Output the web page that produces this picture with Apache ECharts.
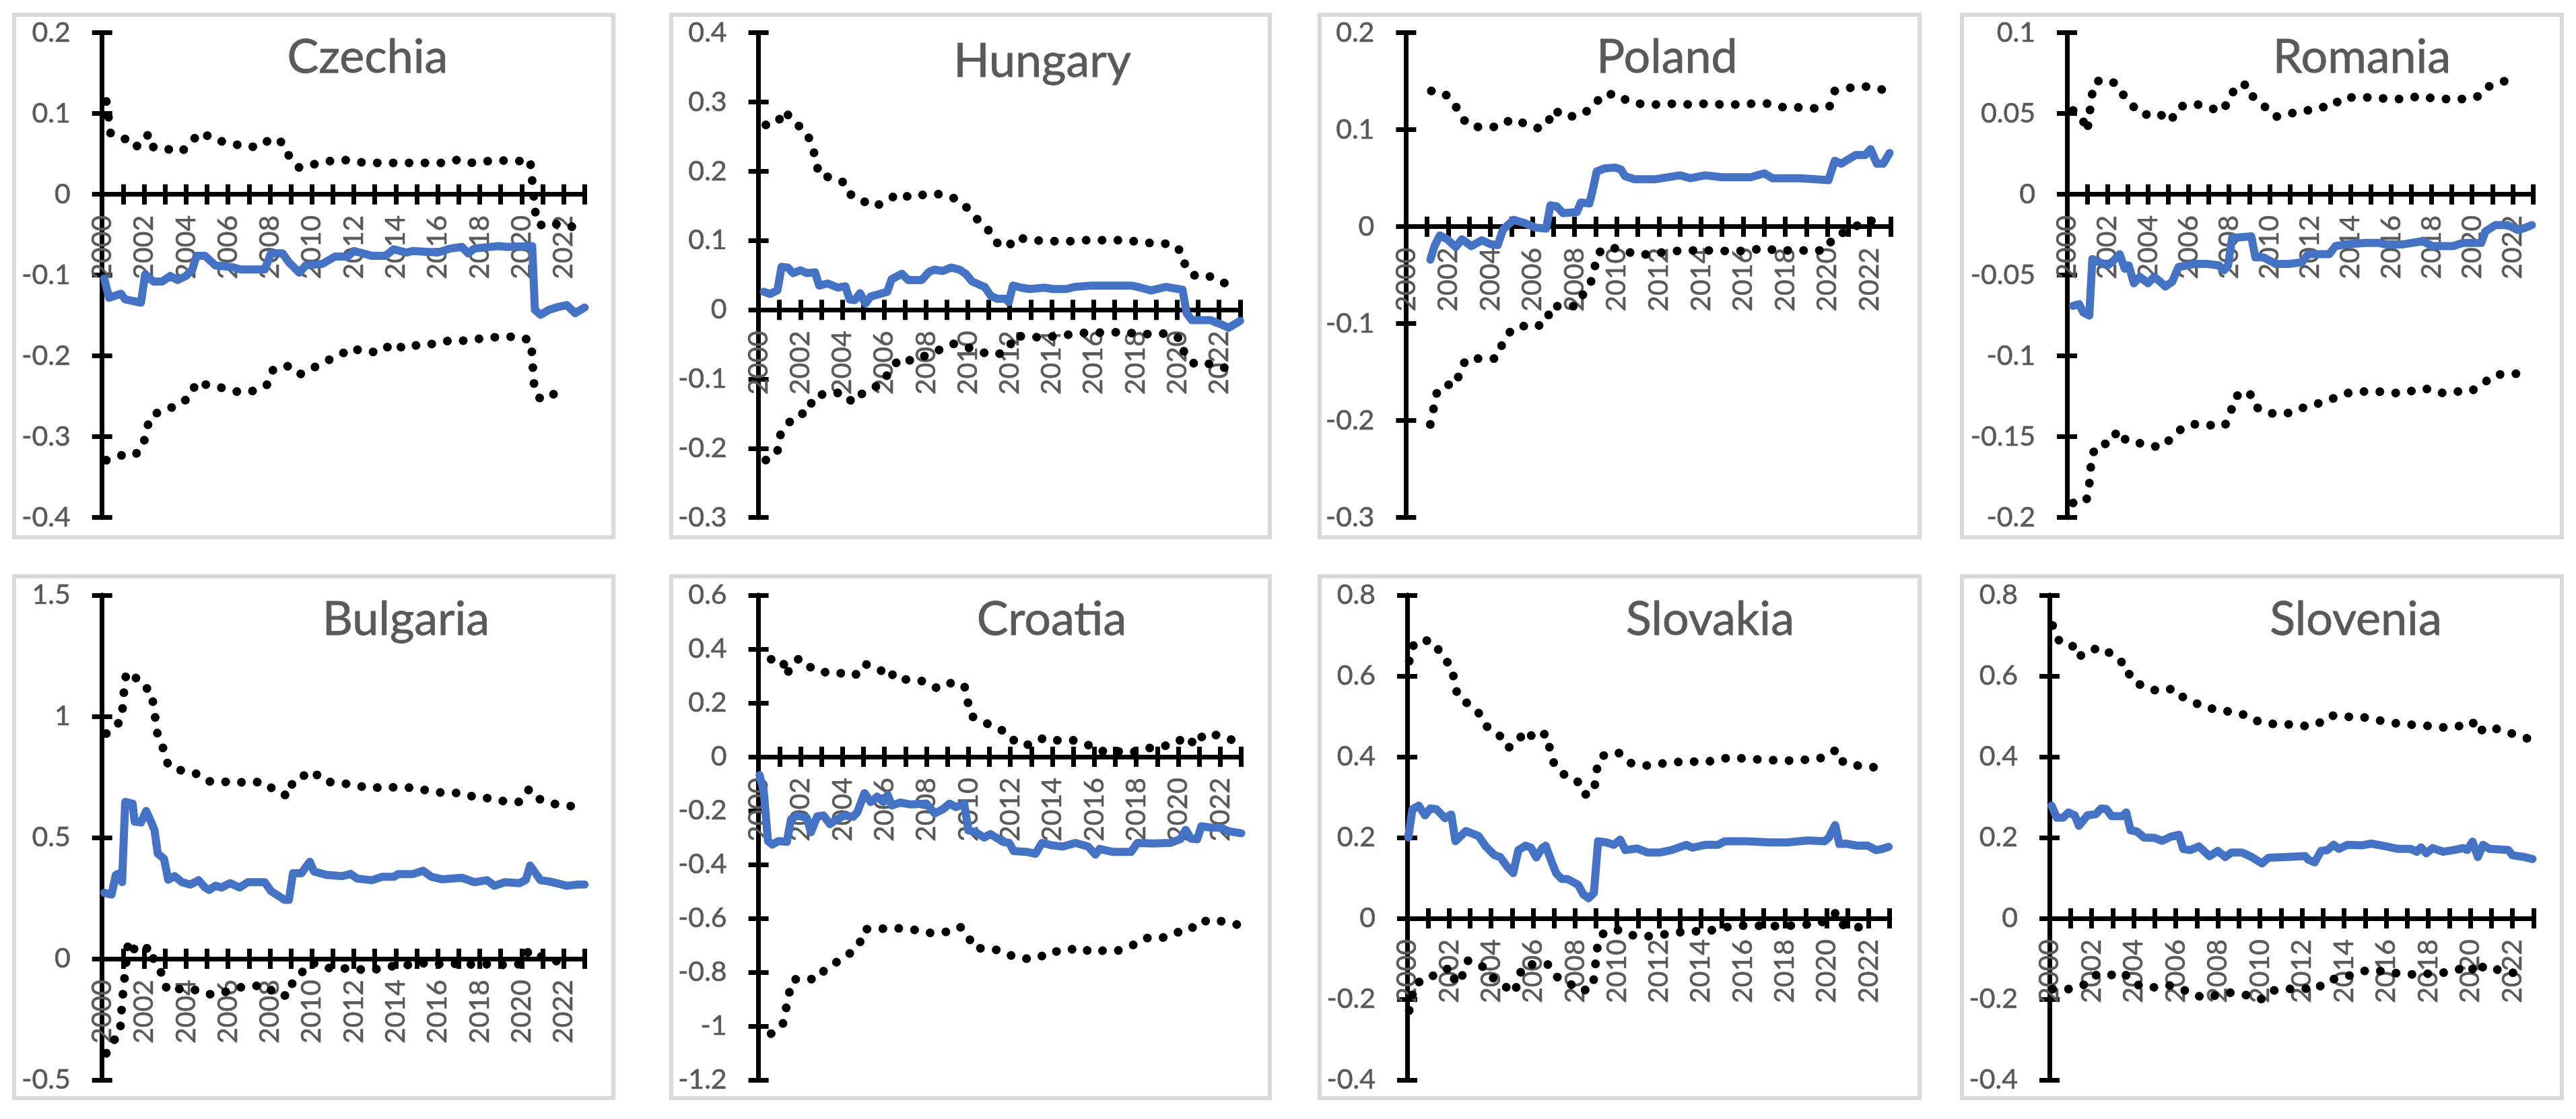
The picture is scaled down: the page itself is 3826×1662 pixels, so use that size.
<!DOCTYPE html>
<html><head><meta charset="utf-8">
<script src="https://cdn.jsdelivr.net/npm/echarts@6/dist/echarts.min.js"></script>
<style>html,body{margin:0;padding:0;background:#fff}#c{width:3826px;height:1662px}</style>
</head><body><div id="c"></div>
<script>
// ---------- data (year, value) ----------
const xYears = [2000, 2023];
const countries = ['Czechia','Hungary','Poland','Romania','Bulgaria','Croatia','Slovakia','Slovenia'];
const yTicks = {
  Czechia:[-0.4,0.2,0.1], Hungary:[-0.3,0.4,0.1], Poland:[-0.3,0.2,0.1], Romania:[-0.2,0.1,0.05],
  Bulgaria:[-0.5,1.5,0.5], Croatia:[-1.2,0.6,0.2], Slovakia:[-0.4,0.8,0.2], Slovenia:[-0.4,0.8,0.2]
};

const czechiaMid = [[2000.1,-0.104],[2000.33,-0.128],[2000.9,-0.123],[2001.1,-0.13],[2001.85,-0.134],[2002.05,-0.099],[2002.45,-0.108],[2002.85,-0.108],[2003.25,-0.101],[2003.6,-0.106],[2004.0,-0.101],[2004.3,-0.093],[2004.5,-0.076],[2004.9,-0.076],[2005.4,-0.088],[2006.2,-0.09],[2006.6,-0.093],[2007.75,-0.093],[2008.05,-0.073],[2008.6,-0.073],[2008.9,-0.084],[2009.4,-0.097],[2009.7,-0.088],[2010.5,-0.086],[2011.1,-0.077],[2011.7,-0.077],[2012.0,-0.07],[2012.85,-0.076],[2013.5,-0.076],[2013.9,-0.068],[2014.5,-0.072],[2014.8,-0.07],[2016.0,-0.072],[2016.6,-0.067],[2017.15,-0.065],[2017.45,-0.073],[2017.75,-0.067],[2018.9,-0.064],[2019.3,-0.065],[2020.5,-0.064],[2020.63,-0.143],[2020.9,-0.149],[2021.3,-0.143],[2021.65,-0.14],[2022.15,-0.137],[2022.55,-0.147],[2023.0,-0.14]];
const czechiaUp = [[2000.2,0.115],[2000.3,0.096],[2000.4,0.076],[2001,0.071],[2001.5,0.058],[2002,0.064],[2002.2,0.075],[2002.45,0.058],[2003.1,0.056],[2003.8,0.053],[2004.3,0.067],[2004.75,0.077],[2005.35,0.067],[2006.1,0.064],[2006.75,0.059],[2007.5,0.059],[2008.1,0.07],[2008.6,0.064],[2008.9,0.048],[2009.4,0.033],[2010.05,0.037],[2010.8,0.041],[2011.5,0.043],[2012.1,0.04],[2012.85,0.039],[2013.6,0.039],[2014.75,0.039],[2015.5,0.039],[2016.25,0.039],[2017,0.043],[2017.55,0.039],[2018.3,0.041],[2019,0.042],[2019.8,0.041],[2020.4,0.043],[2020.7,-0.035],[2021.1,-0.04],[2021.8,-0.036],[2022.4,-0.04]];
const czechiaLow = [[2000.2,-0.329],[2000.9,-0.323],[2001.55,-0.323],[2001.95,-0.312],[2002.1,-0.293],[2002.3,-0.275],[2002.95,-0.266],[2003.6,-0.262],[2004.2,-0.25],[2004.5,-0.232],[2005.15,-0.237],[2005.85,-0.24],[2006.55,-0.245],[2007.3,-0.243],[2007.9,-0.235],[2008.15,-0.217],[2008.8,-0.212],[2009.4,-0.223],[2010.05,-0.215],[2010.7,-0.206],[2011.35,-0.199],[2011.85,-0.19],[2012.55,-0.195],[2013.3,-0.195],[2013.85,-0.184],[2014.4,-0.191],[2015.1,-0.186],[2015.85,-0.185],[2016.55,-0.181],[2017.25,-0.181],[2017.9,-0.179],[2018.6,-0.177],[2019.3,-0.176],[2020.05,-0.177],[2020.45,-0.182],[2020.6,-0.24],[2020.9,-0.254],[2021.55,-0.247],[2022.25,-0.244]];

const hungaryMid = [[2000.25,0.026],[2000.55,0.023],[2000.9,0.028],[2001.1,0.062],[2001.4,0.061],[2001.65,0.053],[2002.0,0.057],[2002.3,0.053],[2002.7,0.054],[2002.9,0.035],[2003.3,0.038],[2003.8,0.032],[2004.15,0.034],[2004.35,0.015],[2004.6,0.014],[2004.85,0.024],[2005.1,0.009],[2005.35,0.019],[2005.8,0.023],[2006.15,0.026],[2006.35,0.044],[2006.85,0.052],[2007.15,0.043],[2007.8,0.043],[2008.15,0.055],[2008.4,0.058],[2008.8,0.056],[2009.2,0.061],[2009.6,0.058],[2009.9,0.052],[2010.2,0.041],[2010.8,0.033],[2011.1,0.02],[2011.4,0.016],[2011.8,0.016],[2011.95,0.011],[2012.15,0.035],[2012.55,0.032],[2012.95,0.03],[2013.65,0.032],[2014.05,0.03],[2014.7,0.03],[2015.1,0.033],[2015.9,0.035],[2016.9,0.035],[2017.8,0.035],[2018.25,0.032],[2018.75,0.028],[2019.45,0.033],[2020.05,0.03],[2020.25,0.029],[2020.45,-0.005],[2020.7,-0.015],[2021.6,-0.015],[2021.9,-0.019],[2022.1,-0.021],[2022.45,-0.026],[2023.0,-0.016]];
const hungaryUp = [[2000.35,0.267],[2000.9,0.27],[2001.25,0.288],[2001.65,0.271],[2002.2,0.26],[2002.55,0.24],[2002.9,0.194],[2003.5,0.191],[2004.15,0.183],[2004.45,0.164],[2005.0,0.157],[2005.5,0.149],[2006.15,0.157],[2006.65,0.168],[2007.3,0.162],[2008.0,0.167],[2008.7,0.167],[2009.35,0.161],[2009.9,0.149],[2010.4,0.132],[2010.9,0.119],[2011.3,0.098],[2011.9,0.09],[2012.3,0.105],[2013.05,0.1],[2013.8,0.1],[2014.5,0.098],[2015.3,0.1],[2016.05,0.101],[2016.8,0.1],[2017.55,0.101],[2018.3,0.097],[2019.05,0.096],[2019.8,0.095],[2020.25,0.082],[2020.4,0.06],[2020.9,0.048],[2021.65,0.048],[2022.3,0.038]];
const hungaryLow = [[2000.35,-0.217],[2000.9,-0.206],[2001.0,-0.183],[2001.3,-0.168],[2001.8,-0.152],[2002.4,-0.148],[2002.6,-0.126],[2003.3,-0.12],[2004.05,-0.12],[2004.5,-0.134],[2004.9,-0.122],[2005.35,-0.115],[2005.9,-0.106],[2006.3,-0.087],[2006.75,-0.07],[2007.4,-0.074],[2008.05,-0.065],[2008.7,-0.057],[2009.3,-0.049],[2010.05,-0.055],[2010.75,-0.062],[2011.4,-0.065],[2011.95,-0.057],[2012.2,-0.037],[2012.95,-0.04],[2013.7,-0.039],[2014.45,-0.038],[2015.15,-0.034],[2015.9,-0.033],[2016.7,-0.033],[2017.45,-0.032],[2018.15,-0.035],[2018.9,-0.035],[2019.65,-0.034],[2020.2,-0.043],[2020.35,-0.065],[2020.85,-0.079],[2021.6,-0.078],[2022.3,-0.084]];

const polandMid = [[2001.15,-0.034],[2001.35,-0.02],[2001.6,-0.009],[2001.95,-0.013],[2002.35,-0.021],[2002.65,-0.013],[2003.1,-0.02],[2003.6,-0.014],[2004.0,-0.018],[2004.35,-0.019],[2004.6,-0.003],[2005.1,0.007],[2005.6,0.004],[2006.15,-0.001],[2006.65,-0.002],[2006.85,0.022],[2007.15,0.021],[2007.45,0.014],[2008.1,0.015],[2008.3,0.025],[2008.7,0.024],[2008.85,0.037],[2009.05,0.057],[2009.4,0.06],[2009.9,0.061],[2010.2,0.059],[2010.4,0.052],[2010.85,0.049],[2011.85,0.049],[2013.0,0.053],[2013.5,0.05],[2014.2,0.053],[2015.0,0.051],[2016.35,0.051],[2017.0,0.055],[2017.4,0.05],[2018.7,0.05],[2020.05,0.048],[2020.35,0.068],[2020.65,0.065],[2021.35,0.074],[2021.8,0.074],[2022.05,0.08],[2022.35,0.065],[2022.65,0.065],[2022.95,0.076]];
const polandUp = [[2001.2,0.14],[2001.8,0.138],[2002.3,0.127],[2002.6,0.113],[2003.1,0.103],[2003.8,0.103],[2004.45,0.103],[2005.0,0.111],[2005.7,0.106],[2006.35,0.101],[2006.75,0.108],[2007.0,0.121],[2007.55,0.113],[2008.3,0.115],[2008.9,0.124],[2009.3,0.136],[2010.0,0.137],[2010.55,0.129],[2011.3,0.126],[2012.0,0.126],[2012.8,0.127],[2013.5,0.126],[2014.3,0.127],[2015.0,0.126],[2015.75,0.126],[2016.5,0.127],[2017.2,0.127],[2017.95,0.123],[2018.7,0.123],[2019.45,0.122],[2020.1,0.124],[2020.35,0.14],[2021.0,0.143],[2021.7,0.145],[2022.2,0.143],[2022.7,0.141]];
const polandLow = [[2001.15,-0.204],[2001.3,-0.188],[2001.45,-0.172],[2001.8,-0.163],[2002.4,-0.163],[2002.55,-0.147],[2002.9,-0.136],[2003.6,-0.136],[2004.25,-0.136],[2004.55,-0.122],[2004.95,-0.108],[2005.4,-0.102],[2006.1,-0.104],[2006.7,-0.098],[2006.85,-0.082],[2007.35,-0.082],[2008.05,-0.082],[2008.4,-0.07],[2008.75,-0.059],[2008.95,-0.042],[2009.1,-0.027],[2009.7,-0.021],[2010.35,-0.025],[2011.05,-0.029],[2011.8,-0.028],[2012.5,-0.025],[2013.25,-0.025],[2014.0,-0.024],[2014.75,-0.025],[2015.45,-0.025],[2016.25,-0.025],[2016.95,-0.022],[2017.7,-0.025],[2018.45,-0.024],[2019.2,-0.025],[2019.95,-0.024],[2020.25,-0.012],[2020.85,-0.005],[2021.5,0.002],[2022.05,0.007],[2022.55,-0.005]];

const romaniaMid = [[2000.3,-0.069],[2000.6,-0.068],[2000.8,-0.073],[2001.1,-0.075],[2001.25,-0.04],[2001.6,-0.042],[2002.0,-0.044],[2002.3,-0.041],[2002.6,-0.037],[2002.85,-0.046],[2003.05,-0.044],[2003.3,-0.055],[2003.6,-0.051],[2004.0,-0.055],[2004.3,-0.051],[2004.6,-0.054],[2004.85,-0.057],[2005.2,-0.054],[2005.5,-0.045],[2005.9,-0.044],[2006.3,-0.043],[2006.9,-0.043],[2007.5,-0.044],[2007.75,-0.047],[2007.95,-0.044],[2008.15,-0.027],[2009.1,-0.026],[2009.3,-0.039],[2009.7,-0.039],[2010.3,-0.043],[2011.0,-0.043],[2011.6,-0.042],[2011.9,-0.037],[2012.95,-0.037],[2013.25,-0.032],[2013.75,-0.031],[2014.75,-0.03],[2015.35,-0.03],[2015.75,-0.031],[2016.55,-0.031],[2017.55,-0.029],[2018.05,-0.032],[2019.05,-0.032],[2019.55,-0.03],[2020.45,-0.03],[2020.65,-0.023],[2021.15,-0.019],[2021.75,-0.019],[2022.25,-0.022],[2022.55,-0.021],[2022.95,-0.019]];
const romaniaUp = [[2000.3,0.052],[2000.75,0.047],[2001.0,0.039],[2001.1,0.049],[2001.2,0.058],[2001.3,0.068],[2001.65,0.071],[2002.35,0.069],[2002.75,0.062],[2003.2,0.056],[2003.45,0.051],[2004.05,0.049],[2004.55,0.05],[2005.1,0.045],[2005.5,0.054],[2006.15,0.056],[2006.85,0.055],[2007.55,0.051],[2008.05,0.058],[2008.3,0.067],[2008.9,0.068],[2009.2,0.06],[2009.7,0.055],[2010.3,0.048],[2010.9,0.05],[2011.65,0.051],[2012.35,0.054],[2013.05,0.054],[2013.6,0.06],[2014.35,0.06],[2015.15,0.06],[2015.9,0.059],[2016.7,0.059],[2017.45,0.061],[2018.2,0.059],[2018.95,0.059],[2019.7,0.059],[2020.4,0.061],[2020.85,0.067],[2021.5,0.07],[2022.3,0.07]];
const romaniaLow = [[2000.3,-0.191],[2000.95,-0.19],[2001.1,-0.18],[2001.15,-0.171],[2001.25,-0.161],[2001.5,-0.155],[2002.15,-0.154],[2002.5,-0.146],[2002.8,-0.151],[2003.2,-0.154],[2003.6,-0.154],[2004.15,-0.156],[2004.75,-0.156],[2005.2,-0.15],[2005.75,-0.144],[2006.4,-0.142],[2007.2,-0.143],[2007.8,-0.143],[2008.1,-0.134],[2008.3,-0.125],[2009.0,-0.122],[2009.25,-0.131],[2009.8,-0.135],[2010.45,-0.136],[2011.1,-0.135],[2011.85,-0.131],[2012.55,-0.129],[2013.2,-0.126],[2013.85,-0.123],[2014.6,-0.122],[2015.35,-0.122],[2016.15,-0.123],[2016.9,-0.122],[2017.65,-0.12],[2018.4,-0.123],[2019.15,-0.122],[2019.9,-0.122],[2020.5,-0.118],[2021.0,-0.112],[2021.7,-0.111],[2022.45,-0.111]];

const bulgariaMid = [[2000.1,0.272],[2000.45,0.265],[2000.65,0.346],[2000.85,0.353],[2000.95,0.316],[2001.1,0.647],[2001.45,0.64],[2001.55,0.566],[2001.85,0.562],[2002.1,0.61],[2002.35,0.562],[2002.5,0.529],[2002.65,0.434],[2002.95,0.412],[2003.15,0.326],[2003.45,0.341],[2003.8,0.316],[2004.2,0.306],[2004.6,0.324],[2004.9,0.294],[2005.1,0.284],[2005.4,0.301],[2005.7,0.294],[2006.1,0.312],[2006.55,0.294],[2006.95,0.316],[2007.75,0.316],[2008.05,0.279],[2008.45,0.257],[2008.7,0.243],[2008.9,0.243],[2009.1,0.353],[2009.5,0.353],[2009.9,0.4],[2010.1,0.36],[2010.7,0.346],[2011.45,0.341],[2011.85,0.35],[2012.15,0.331],[2012.85,0.324],[2013.35,0.338],[2013.9,0.338],[2014.1,0.349],[2014.8,0.349],[2015.3,0.363],[2015.7,0.338],[2016.2,0.328],[2017.15,0.334],[2017.75,0.316],[2018.35,0.324],[2018.7,0.301],[2019.2,0.316],[2019.9,0.312],[2020.2,0.326],[2020.4,0.385],[2020.9,0.324],[2021.3,0.319],[2021.65,0.312],[2022.15,0.301],[2022.65,0.306],[2023.0,0.306]];
const bulgariaUp = [[2000.2,0.929],[2000.55,0.949],[2000.9,0.985],[2001.0,1.051],[2001.05,1.118],[2001.15,1.179],[2001.5,1.174],[2001.85,1.125],[2002.3,1.11],[2002.45,1.047],[2002.55,0.982],[2002.65,0.919],[2002.95,0.86],[2003.15,0.797],[2003.8,0.776],[2004.45,0.765],[2005.05,0.732],[2005.7,0.732],[2006.35,0.725],[2007.05,0.732],[2007.8,0.725],[2008.35,0.684],[2008.9,0.672],[2009.1,0.735],[2009.65,0.757],[2010.05,0.775],[2010.55,0.732],[2011.3,0.725],[2012.0,0.718],[2012.75,0.703],[2013.45,0.709],[2014.2,0.706],[2014.95,0.706],[2015.6,0.691],[2016.35,0.684],[2017.1,0.684],[2017.8,0.666],[2018.5,0.662],[2019.15,0.65],[2019.9,0.647],[2020.35,0.699],[2020.65,0.666],[2021.3,0.643],[2022.0,0.632],[2022.7,0.628]];
const bulgariaLow = [[2000.2,-0.39],[2000.5,-0.343],[2000.85,-0.309],[2000.95,-0.181],[2001.1,-0.051],[2001.25,0.074],[2001.65,0.025],[2002.0,0.034],[2002.25,0.051],[2002.5,-0.015],[2002.9,-0.069],[2003.1,-0.132],[2003.65,-0.125],[2004.3,-0.125],[2005.0,-0.147],[2005.65,-0.144],[2006.35,-0.122],[2007.05,-0.11],[2007.85,-0.115],[2008.4,-0.154],[2008.9,-0.15],[2009.1,-0.091],[2009.55,-0.054],[2010.0,-0.015],[2010.55,-0.037],[2011.25,-0.04],[2012.0,-0.04],[2012.7,-0.049],[2013.45,-0.037],[2014.15,-0.026],[2014.9,-0.025],[2015.6,-0.015],[2016.3,-0.025],[2017.0,-0.019],[2017.8,-0.025],[2018.5,-0.022],[2019.2,-0.026],[2019.95,-0.022],[2020.35,0.034],[2020.75,0.015],[2021.45,-0.007],[2022.1,-0.015]];

const croatiaMid = [[2000.05,-0.068],[2000.25,-0.128],[2000.45,-0.313],[2000.65,-0.326],[2000.95,-0.313],[2001.35,-0.316],[2001.55,-0.231],[2001.85,-0.218],[2002.3,-0.227],[2002.5,-0.28],[2002.8,-0.221],[2003.1,-0.218],[2003.4,-0.25],[2003.7,-0.234],[2004.1,-0.218],[2004.5,-0.223],[2004.7,-0.207],[2005.05,-0.135],[2005.35,-0.168],[2005.65,-0.148],[2005.95,-0.168],[2006.15,-0.141],[2006.35,-0.181],[2006.75,-0.17],[2007.25,-0.177],[2008.0,-0.174],[2008.4,-0.21],[2008.8,-0.194],[2009.1,-0.174],[2009.4,-0.187],[2009.8,-0.174],[2010.0,-0.273],[2010.35,-0.28],[2010.75,-0.3],[2011.05,-0.287],[2011.65,-0.316],[2011.95,-0.32],[2012.15,-0.35],[2012.75,-0.353],[2013.2,-0.36],[2013.5,-0.32],[2014.0,-0.329],[2014.5,-0.333],[2015.1,-0.32],[2015.7,-0.333],[2016.05,-0.363],[2016.25,-0.342],[2016.85,-0.353],[2017.75,-0.353],[2018.05,-0.32],[2018.8,-0.322],[2019.6,-0.32],[2020.1,-0.306],[2020.35,-0.271],[2020.6,-0.304],[2020.9,-0.306],[2021.1,-0.258],[2021.55,-0.263],[2022.05,-0.263],[2022.35,-0.276],[2023.0,-0.284]];
const croatiaUp = [[2000.6,0.362],[2001.15,0.359],[2001.35,0.302],[2001.5,0.333],[2001.95,0.366],[2002.5,0.331],[2002.75,0.331],[2003.25,0.311],[2003.85,0.311],[2004.6,0.302],[2005.05,0.346],[2005.45,0.331],[2005.9,0.318],[2006.2,0.329],[2006.5,0.289],[2007.25,0.286],[2007.9,0.28],[2008.55,0.253],[2009.15,0.273],[2009.8,0.266],[2009.95,0.212],[2010.1,0.153],[2010.6,0.133],[2011.2,0.113],[2011.9,0.087],[2012.3,0.048],[2013.0,0.044],[2013.6,0.071],[2014.25,0.061],[2015.0,0.061],[2015.7,0.044],[2016.25,0.021],[2017.0,0.021],[2017.75,0.015],[2018.35,0.03],[2019.1,0.037],[2019.85,0.048],[2020.35,0.077],[2020.85,0.041],[2021.2,0.084],[2021.95,0.08],[2022.65,0.06]];
const croatiaLow = [[2000.6,-1.028],[2001.15,-0.995],[2001.3,-0.939],[2001.45,-0.88],[2001.65,-0.827],[2002.4,-0.823],[2002.7,-0.829],[2003.15,-0.792],[2003.75,-0.761],[2004.35,-0.73],[2004.8,-0.697],[2005.05,-0.64],[2005.5,-0.64],[2006.25,-0.637],[2006.85,-0.637],[2007.55,-0.644],[2008.25,-0.655],[2008.9,-0.651],[2009.6,-0.631],[2010.0,-0.664],[2010.2,-0.708],[2010.8,-0.713],[2011.35,-0.717],[2012.0,-0.737],[2012.65,-0.75],[2013.35,-0.747],[2013.85,-0.723],[2014.55,-0.723],[2015.25,-0.708],[2015.95,-0.727],[2016.45,-0.719],[2017.2,-0.719],[2017.9,-0.697],[2018.45,-0.673],[2019.2,-0.673],[2019.9,-0.655],[2020.45,-0.631],[2020.9,-0.637],[2021.35,-0.607],[2022.1,-0.611],[2022.85,-0.624]];

const slovakiaMid = [[2000.05,0.2],[2000.25,0.27],[2000.55,0.279],[2000.85,0.255],[2001.1,0.272],[2001.4,0.27],[2001.8,0.248],[2002.1,0.257],[2002.3,0.191],[2002.8,0.216],[2003.4,0.204],[2003.75,0.178],[2004.15,0.157],[2004.45,0.151],[2004.75,0.129],[2005.05,0.112],[2005.3,0.169],[2005.65,0.18],[2005.9,0.175],[2006.15,0.151],[2006.45,0.175],[2006.6,0.18],[2006.9,0.138],[2007.1,0.112],[2007.35,0.098],[2007.65,0.097],[2007.9,0.09],[2008.15,0.083],[2008.4,0.059],[2008.65,0.05],[2008.9,0.063],[2009.1,0.191],[2009.5,0.188],[2009.85,0.182],[2010.15,0.195],[2010.4,0.169],[2010.95,0.173],[2011.45,0.163],[2012.05,0.163],[2012.6,0.169],[2013.3,0.182],[2013.6,0.175],[2014.2,0.182],[2014.8,0.182],[2015.15,0.191],[2016.15,0.191],[2017.35,0.188],[2018.1,0.188],[2019.1,0.193],[2019.9,0.191],[2020.1,0.2],[2020.4,0.231],[2020.6,0.184],[2020.9,0.185],[2021.45,0.18],[2021.95,0.18],[2022.35,0.169],[2022.65,0.172],[2022.95,0.177]];
const slovakiaUp = [[2000.1,0.637],[2000.3,0.676],[2000.7,0.691],[2001.35,0.681],[2001.65,0.646],[2002.1,0.626],[2002.25,0.588],[2002.4,0.551],[2002.85,0.533],[2003.4,0.509],[2003.8,0.475],[2004.4,0.453],[2004.8,0.422],[2005.25,0.435],[2005.6,0.465],[2006.15,0.443],[2006.6,0.458],[2006.8,0.42],[2007.0,0.383],[2007.45,0.357],[2008.1,0.341],[2008.45,0.306],[2008.9,0.313],[2009.1,0.39],[2009.45,0.407],[2010.1,0.409],[2010.6,0.385],[2011.35,0.378],[2012.1,0.383],[2012.8,0.387],[2013.55,0.388],[2014.35,0.388],[2015.05,0.396],[2015.75,0.397],[2016.5,0.394],[2017.3,0.392],[2018.0,0.39],[2018.75,0.392],[2019.55,0.394],[2020.15,0.405],[2020.45,0.418],[2020.8,0.385],[2021.5,0.378],[2022.25,0.374]];
const slovakiaLow = [[2000.1,-0.228],[2000.25,-0.19],[2000.45,-0.158],[2000.9,-0.156],[2001.45,-0.133],[2002.1,-0.122],[2002.3,-0.162],[2002.65,-0.14],[2002.9,-0.105],[2003.5,-0.114],[2003.95,-0.142],[2004.55,-0.165],[2005.15,-0.184],[2005.3,-0.144],[2005.6,-0.115],[2006.15,-0.114],[2006.7,-0.114],[2007.1,-0.144],[2007.7,-0.16],[2008.3,-0.18],[2008.85,-0.171],[2009.1,-0.056],[2009.4,-0.034],[2010.05,-0.029],[2010.6,-0.041],[2011.35,-0.045],[2012.1,-0.041],[2012.8,-0.035],[2013.55,-0.032],[2014.3,-0.032],[2015.05,-0.023],[2015.75,-0.018],[2016.5,-0.018],[2017.3,-0.019],[2018.0,-0.019],[2018.75,-0.016],[2019.5,-0.014],[2020.1,-0.003],[2020.45,0.015],[2020.8,-0.018],[2021.55,-0.022],[2022.25,-0.026]];

const sloveniaMid = [[2000.1,0.279],[2000.35,0.249],[2000.65,0.249],[2000.9,0.262],[2001.2,0.255],[2001.4,0.229],[2001.8,0.255],[2002.2,0.258],[2002.45,0.272],[2002.7,0.271],[2002.95,0.253],[2003.45,0.253],[2003.65,0.262],[2003.85,0.218],[2004.15,0.215],[2004.5,0.2],[2005.0,0.199],[2005.35,0.192],[2005.75,0.202],[2006.15,0.207],[2006.35,0.172],[2006.7,0.169],[2007.1,0.178],[2007.6,0.154],[2008.0,0.167],[2008.35,0.152],[2008.65,0.163],[2009.15,0.163],[2009.6,0.152],[2010.1,0.136],[2010.4,0.15],[2011.35,0.152],[2012.15,0.154],[2012.3,0.145],[2012.6,0.139],[2012.9,0.167],[2013.2,0.169],[2013.5,0.182],[2013.75,0.172],[2014.15,0.182],[2014.85,0.181],[2015.3,0.185],[2016.0,0.178],[2016.55,0.172],[2017.15,0.172],[2017.45,0.165],[2017.65,0.176],[2017.9,0.161],[2018.2,0.174],[2018.7,0.165],[2019.2,0.169],[2019.65,0.174],[2019.85,0.169],[2020.1,0.19],[2020.35,0.152],[2020.6,0.182],[2020.9,0.172],[2021.8,0.169],[2022.0,0.156],[2022.55,0.152],[2022.95,0.147]];
const sloveniaUp = [[2000.15,0.725],[2000.45,0.688],[2001.05,0.679],[2001.35,0.646],[2001.95,0.666],[2002.65,0.668],[2003.15,0.64],[2003.65,0.63],[2003.85,0.593],[2004.45,0.574],[2005.2,0.562],[2005.9,0.569],[2006.3,0.549],[2006.9,0.534],[2007.5,0.52],[2008.1,0.518],[2008.7,0.509],[2009.4,0.503],[2010.0,0.485],[2010.7,0.481],[2011.45,0.48],[2012.2,0.476],[2012.75,0.481],[2013.3,0.503],[2013.9,0.498],[2014.65,0.5],[2015.35,0.494],[2016.1,0.485],[2016.8,0.481],[2017.55,0.478],[2018.15,0.476],[2018.85,0.472],[2019.6,0.477],[2020.1,0.487],[2020.35,0.459],[2020.75,0.474],[2021.45,0.467],[2022.1,0.455],[2022.85,0.443]];
const sloveniaLow = [[2000.15,-0.175],[2000.6,-0.177],[2001.2,-0.173],[2001.75,-0.162],[2002.25,-0.139],[2002.8,-0.142],[2003.45,-0.133],[2003.8,-0.148],[2004.3,-0.168],[2005.05,-0.171],[2005.7,-0.166],[2006.3,-0.175],[2006.85,-0.19],[2007.5,-0.197],[2008.05,-0.188],[2008.6,-0.184],[2009.35,-0.19],[2010.05,-0.2],[2010.55,-0.179],[2011.3,-0.175],[2012.05,-0.173],[2012.65,-0.177],[2013.2,-0.153],[2013.8,-0.148],[2014.5,-0.138],[2015.1,-0.128],[2015.9,-0.131],[2016.65,-0.137],[2017.35,-0.139],[2018.0,-0.137],[2018.65,-0.135],[2019.35,-0.128],[2020.0,-0.117],[2020.25,-0.138],[2020.65,-0.117],[2021.35,-0.128],[2022.05,-0.135],[2022.75,-0.144]];

const seriesData = {
  Czechia:[czechiaMid,czechiaUp,czechiaLow], Hungary:[hungaryMid,hungaryUp,hungaryLow],
  Poland:[polandMid,polandUp,polandLow], Romania:[romaniaMid,romaniaUp,romaniaLow],
  Bulgaria:[bulgariaMid,bulgariaUp,bulgariaLow], Croatia:[croatiaMid,croatiaUp,croatiaLow],
  Slovakia:[slovakiaMid,slovakiaUp,slovakiaLow], Slovenia:[sloveniaMid,sloveniaUp,sloveniaLow]
};

// ---------- layout (pixels) ----------
const layout = {
  Czechia: {grid:[151.7,48.7,716.6,720], frame:[21,22,890,776], title:[546,50]},
  Hungary: {grid:[1126.6,48.7,715.2,720], frame:[997,22,889,776], title:[1548,56]},
  Poland:  {grid:[2088.4,48.7,719.6,720], frame:[1960,22,891,776], title:[2476,50]},
  Romania: {grid:[3070,48.7,692,720], frame:[2914,22,891,776], title:[3508,50]},
  Bulgaria:{grid:[151.7,884,716.6,720], frame:[21,856,890,775], title:[603,885]},
  Croatia: {grid:[1126.6,884,717,720], frame:[997,856,889,775], title:[1562,885]},
  Slovakia:{grid:[2090,884,716.7,720], frame:[1960,856,891,775], title:[2540,885]},
  Slovenia:{grid:[3044,884,719,720], frame:[2914,856,891,775], title:[3499,885]}
};

const FONT = 'Lato, "Open Sans", sans-serif';
const LABEL = '#595959';
const grids = [], xAxes = [], yAxes = [], series = [], graphics = [];
const fmtY = v => String(parseFloat(v.toFixed(3)));

countries.forEach((name, i) => {
  const L = layout[name];
  const [yMin, yMax, yStep] = yTicks[name];
  grids.push({left:L.grid[0], top:L.grid[1], width:L.grid[2], height:L.grid[3], containLabel:false, outerBoundsMode:'none'});
  // the horizontal axis crosses at value 0: shift it up from the grid bottom
  const zeroOffset = -(0 - yMin) / (yMax - yMin) * L.grid[3];
  const lineSt = {color:'#000', width:7};
  [false, true].forEach(inside => {
    xAxes.push({type:'value', gridIndex:i, min:xYears[0], max:xYears[1], interval:1, position:'bottom', offset:zeroOffset,
      axisLine:{show:true, onZero:false, lineStyle:lineSt},
      axisTick:{show:true, inside:inside, length:15, lineStyle:lineSt},
      axisLabel:{show:!inside, rotate:90, margin:31, color:LABEL, fontSize:41, fontFamily:FONT,
        textBorderColor:LABEL, textBorderWidth:0.6,
        formatter: v => (Math.round(v) % 2 === 0 ? String(Math.round(v)) : '')},
      splitLine:{show:false}});
    yAxes.push({type:'value', gridIndex:i, min:yMin, max:yMax, interval:yStep, position:'left',
      axisLine:{show:true, onZero:false, lineStyle:lineSt},
      axisTick:{show:true, inside:inside, length:15, lineStyle:lineSt},
      axisLabel:{show:!inside, margin:47, color:LABEL, fontSize:41, fontFamily:FONT,
        textBorderColor:LABEL, textBorderWidth:0.6, formatter: fmtY},
      splitLine:{show:false}});
  });
  const [mid, up, low] = seriesData[name];
  const ax = 2 * i;
  [up, low].forEach(d => series.push({type:'line', xAxisIndex:ax, yAxisIndex:ax, data:d, symbol:'none', silent:true, z:3,
    lineStyle:{color:'#000', width:13, type:[0.1, 23.5], cap:'round', join:'round'}}));
  series.push({type:'line', xAxisIndex:ax, yAxisIndex:ax, data:mid, symbol:'none', silent:true, z:4,
    lineStyle:{color:'#4472C4', width:12, cap:'round', join:'round'}});
  graphics.push({type:'rect', shape:{x:L.frame[0], y:L.frame[1], width:L.frame[2], height:L.frame[3]},
    style:{fill:'none', stroke:'#d9d9d9', lineWidth:6}, silent:true, z:0});
  graphics.push({type:'text', x:L.title[0], y:L.title[1], silent:true, z:10,
    style:{text:name, fill:LABEL, fontSize:70, fontFamily:FONT, align:'center', verticalAlign:'top',
      stroke:LABEL, lineWidth:0.8}});
});

const chart = echarts.init(document.getElementById('c'), null, {renderer:'canvas'});
chart.setOption({animation:false, backgroundColor:'#fff', grid:grids, xAxis:xAxes, yAxis:yAxes, series:series, graphic:graphics});
</script></body></html>
